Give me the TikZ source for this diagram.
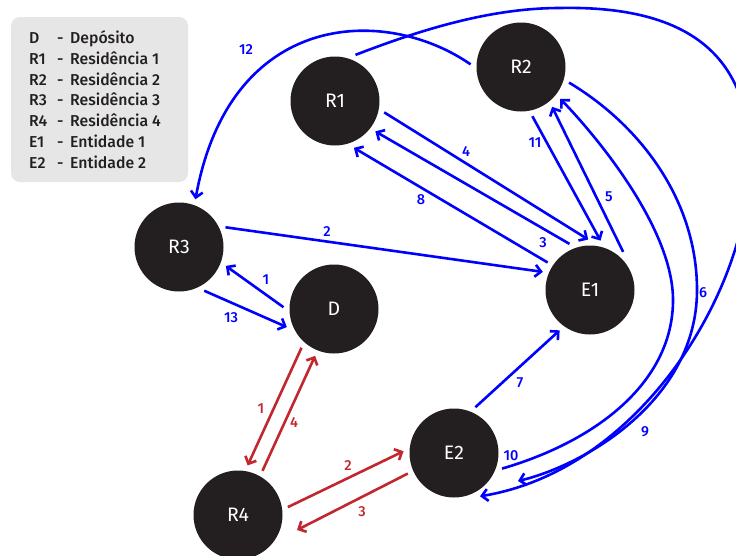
\documentclass[tikz,border=0pt]{standalone}
\usepackage{fontspec}
\setmainfont{Fira Sans}
\newfontfamily\medsans{Fira Sans}[UprightFont={* Medium}]
\usetikzlibrary{arrows.meta}
\definecolor{nodefill}{HTML}{231F20}
\definecolor{eblue}{HTML}{0000FF}
\definecolor{ered}{HTML}{C1272D}
\definecolor{legbg}{HTML}{E6E6E6}
\begin{document}
\begin{tikzpicture}[x=1pt,y=-1pt,
  place/.style={circle, fill=nodefill, minimum size=89pt, inner sep=0pt, outer sep=6pt, text=white, font=\fontsize{19.5}{22}\selectfont},
  bl/.style={draw=eblue, line width=2.6pt, line join=round, -{Straight Barb[length=6pt,width=12pt]}},
  rd/.style={bl, draw=ered},
  bln/.style={text=eblue, font=\medsans\fontsize{14.5}{18}\selectfont, inner sep=0pt},
  rdn/.style={bln, text=ered},
  legtxt/.style={anchor=base west, inner sep=0pt, font=\medsans\fontsize{15.8}{20}\selectfont, text=nodefill}]
\useasboundingbox (0,0) rectangle (736,555);
\fill[white] (0,0) rectangle (736,555);
% legend
\fill[legbg, rounded corners=9pt] (11,17) rectangle (188,182);
\node[legtxt] (leg1) at (29,43.5) {\makebox[28pt][l]{D}\makebox[13pt][l]{-}Depósito};
\node[legtxt] (leg2) at (29,64.3) {\makebox[28pt][l]{R1}\makebox[13pt][l]{-}Residência 1};
\node[legtxt] (leg3) at (29,85.1) {\makebox[28pt][l]{R2}\makebox[13pt][l]{-}Residência 2};
\node[legtxt] (leg4) at (29,105.9) {\makebox[28pt][l]{R3}\makebox[13pt][l]{-}Residência 3};
\node[legtxt] (leg5) at (29,126.7) {\makebox[28pt][l]{R4}\makebox[13pt][l]{-}Residência 4};
\node[legtxt] (leg6) at (29,147.5) {\makebox[28pt][l]{E1}\makebox[13pt][l]{-}Entidade 1};
\node[legtxt] (leg7) at (29,168.3) {\makebox[28pt][l]{E2}\makebox[13pt][l]{-}Entidade 2};
% places
\node[place] (R1) at (335,101) {R1};
\node[place] (R2) at (521,67) {R2};
\node[place] (R3) at (179,247) {R3};
\node[place] (D) at (334,309) {D};
\node[place] (E1) at (590,290) {E1};
\node[place] (E2) at (454,453) {E2};
\node[place] (R4) at (238,515) {R4};
\coordinate (e6) at (518,481);
\coordinate (e3r) at (297,530);
% blue straight
\draw[bl] (R1.-13) -- (E1.92);
\draw[bl] (E1.114) -- (R1.-37);
\draw[bl] (E1.147) -- (R1.-68);
\draw[bl] (R2.-77) -- (E1.78);
\draw[bl] (E1.49) -- (R2.-52);
\draw[bl] (R3.23) -- (E1.159);
\draw[bl] (D.178) -- (R3.-22);
\draw[bl] (R3.-60) -- (D.201);
\draw[bl] (E2.65) -- (E1.-127);
% blue curves
\draw[bl] (R2.177) .. controls (385,5) and (230,10) .. (R3.71);
\draw[bl] (R1.66) .. controls (420,30) and (490,8) .. (560,8)
  .. controls (705,5) and (750,70) .. (750,160)
  .. controls (750,290) and (640,470) .. (E2.-59);
\draw[bl] (R2.-18) .. controls (640,125) and (697,200) .. (697,290)
  .. controls (697,400) and (585,465) .. (e6);
\draw[bl] (E2.-18) .. controls (600,440) and (673,380) .. (673,300)
  .. controls (673,230) and (600,140) .. (R2.-39);
% red
\draw[rd] (D.-130) -- (R4.79);
\draw[rd] (R4.61) -- (D.-112);
\draw[rd] (R4.9) -- (E2.178);
\draw[rd] (E2.-156) -- (e3r);
% labels
\node[bln] (l12) at (246,50) {12};
\node[bln] (l4) at (466,152) {4};
\node[bln] (l8) at (421,200) {8};
\node[bln] (l3) at (543,243) {3};
\node[bln] (l11) at (535,143) {11};
\node[bln] (l5) at (609,197) {5};
\node[bln] (l2) at (327,232) {2};
\node[bln] (l1) at (266,280) {1};
\node[bln] (l13) at (231,318) {13};
\node[bln] (l7) at (520,383) {7};
\node[bln] (l10) at (511,456) {10};
\node[bln] (l6) at (703,293) {6};
\node[bln] (l9) at (645,432) {9};
\node[rdn] (m1) at (261,409) {1};
\node[rdn] (m4) at (294,423) {4};
\node[rdn] (m2) at (348,466) {2};
\node[rdn] (m3) at (362,512) {3};
\end{tikzpicture}
\end{document}
